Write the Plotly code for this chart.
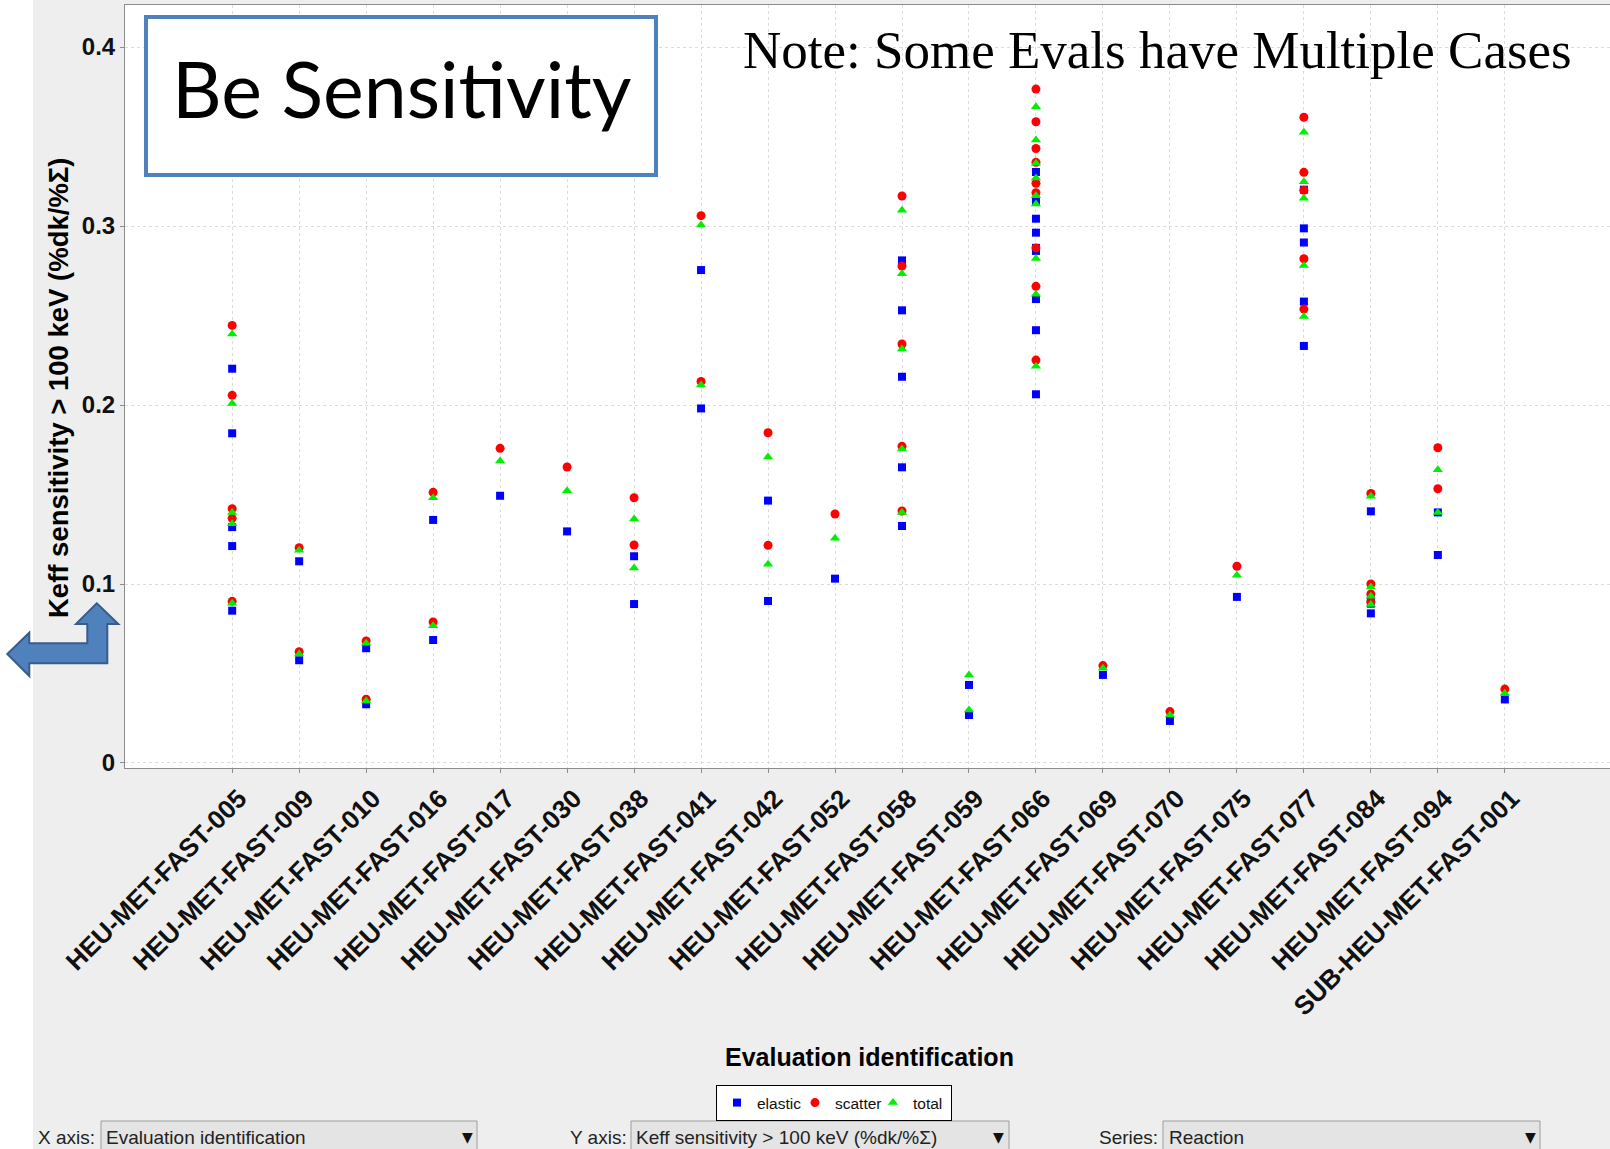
import plotly.graph_objects as go

categories = [
    "HEU-MET-FAST-005", "HEU-MET-FAST-009", "HEU-MET-FAST-010", "HEU-MET-FAST-016",
    "HEU-MET-FAST-017", "HEU-MET-FAST-030", "HEU-MET-FAST-038", "HEU-MET-FAST-041",
    "HEU-MET-FAST-042", "HEU-MET-FAST-052", "HEU-MET-FAST-058", "HEU-MET-FAST-059",
    "HEU-MET-FAST-066", "HEU-MET-FAST-069", "HEU-MET-FAST-070", "HEU-MET-FAST-075",
    "HEU-MET-FAST-077", "HEU-MET-FAST-084", "HEU-MET-FAST-094", "SUB-HEU-MET-FAST-001",
]

elastic_values = [
    [0.2203, 0.1842, 0.1318, 0.1212, 0.0851],
    [0.1127, 0.0574],
    [0.0641, 0.0328],
    [0.1358, 0.0687],
    [0.1493],
    [0.1294],
    [0.1155, 0.0888],
    [0.2754, 0.1981],
    [0.1466, 0.0905],
    [0.1030],
    [0.2808, 0.2529, 0.2158, 0.1652, 0.1324],
    [0.0436, 0.0268],
    [0.3302, 0.3137, 0.3041, 0.2963, 0.2878, 0.2861, 0.2592, 0.2418, 0.2060],
    [0.0492],
    [0.0235],
    [0.0928],
    [0.3203, 0.2987, 0.2908, 0.2578, 0.2330],
    [0.1406, 0.0925, 0.0890, 0.0836],
    [0.1400, 0.1162],
    [0.0355],
]

scatter_values = [
    [0.2445, 0.2054, 0.1421, 0.1367, 0.0903],
    [0.1203, 0.0622],
    [0.0682, 0.0356],
    [0.1512, 0.0788],
    [0.1758],
    [0.1654],
    [0.1482, 0.1218],
    [0.3058, 0.2132],
    [0.1845, 0.1216],
    [0.1391],
    [0.3168, 0.2777, 0.2341, 0.1769, 0.1408],
    [],
    [0.3765, 0.3583, 0.3433, 0.3356, 0.3239, 0.3186, 0.2878, 0.2663, 0.2251],
    [0.0544],
    [0.0287],
    [0.1099],
    [0.3608, 0.3300, 0.3200, 0.2817, 0.2536],
    [0.1506, 0.1000, 0.0944, 0.0900],
    [0.1761, 0.1532],
    [0.0413],
]

total_values = [
    [0.2397, 0.2009, 0.1400, 0.1337, 0.0892],
    [0.1188, 0.0609],
    [0.0669, 0.0346],
    [0.1482, 0.0767],
    [0.1687],
    [0.1521],
    [0.1363, 0.1089],
    [0.3006, 0.2112],
    [0.1709, 0.1110],
    [0.1255],
    [0.3088, 0.2734, 0.2313, 0.1754, 0.1400],
    [0.0492, 0.0296],
    [0.3666, 0.3481, 0.3351, 0.3268, 0.3169, 0.3123, 0.2818, 0.2619, 0.2217],
    [0.0529],
    [0.0268],
    [0.1049],
    [0.3524, 0.3248, 0.3155, 0.2779, 0.2494],
    [0.1491, 0.0983, 0.0932, 0.0886],
    [0.1638, 0.1400],
    [0.0390],
]

series_names = ["elastic", "scatter", "total"]
y_tick_values = [0, 0.1, 0.2, 0.3, 0.4]
y_tick_labels = ["0", "0.1", "0.2", "0.3", "0.4"]

W, H = 1610, 1149
PL, PR, PT, PB = 125, 1610, 5, 768


def px(x):
    return (x - PL) / (PR - PL)


def py(y):
    return (PB - y) / (PB - PT)


def flatten(vals):
    xs, ys = [], []
    for c, vs in zip(categories, vals):
        for v in vs:
            xs.append(c)
            ys.append(v)
    return xs, ys


SANS = "Liberation Sans, Arial, sans-serif"
fig = go.Figure()
styles = [
    (elastic_values, "square", "#0000FF", 8),
    (scatter_values, "circle", "#FF0000", 9),
    (total_values, "triangle-up", "#00EE00", 9),
]
for name, (vals, sym, col, size) in zip(series_names, styles):
    xs, ys = flatten(vals)
    fig.add_trace(go.Scatter(
        x=xs, y=ys, mode="markers", name=name,
        marker=dict(symbol=sym, color=col, size=size, line=dict(width=0)),
    ))

grid = "#DCDCDC"
fig.update_xaxes(
    type="category", categoryorder="array", categoryarray=categories,
    range=[-1.6, 20.57], tickangle=-45, ticklabelshift=7,
    tickfont=dict(family=SANS, size=26, color="#111", weight="bold"),
    showgrid=True, gridcolor=grid, griddash="3px,3px", gridwidth=1,
    showline=True, linecolor="#8C8C8C", linewidth=1, mirror=True,
    ticks="outside", ticklen=4, tickcolor="#8C8C8C", zeroline=False,
)
fig.update_yaxes(
    range=[-0.0028, 0.4235], tickvals=y_tick_values, ticktext=y_tick_labels,
    tickfont=dict(family=SANS, size=24, color="#111", weight="bold"),
    showgrid=True, gridcolor=grid, griddash="3px,3px", gridwidth=1,
    showline=True, linecolor="#8C8C8C", linewidth=1, mirror=True,
    ticks="outside", ticklen=4, tickcolor="#8C8C8C", zeroline=False,
)

shapes = [
    dict(type="rect", xref="paper", yref="paper", x0=px(0), x1=px(33), y0=py(0), y1=py(H),
         fillcolor="white", line=dict(width=0), layer="above"),
    dict(type="rect", xref="paper", yref="paper", x0=px(146), x1=px(656), y0=py(17), y1=py(175),
         fillcolor="white", line=dict(color="#4F81BD", width=4), layer="above"),
]
for x0, x1 in [(101, 477), (631, 1009), (1163, 1540)]:
    shapes.append(dict(type="rect", xref="paper", yref="paper", x0=px(x0), x1=px(x1),
                       y0=py(1121), y1=py(1165), fillcolor="#E4E4E4",
                       line=dict(color="#9C9C9C", width=1), layer="above"))
pts = [(96.7, 603.3), (118.3, 624), (107.3, 624), (107.3, 663.3), (29.3, 663.3),
       (29.3, 676), (7.3, 654), (29.3, 632.7), (29.3, 643.3), (87.3, 643.3),
       (87.3, 624), (76, 624)]
path = "M " + " L ".join(f"{px(a):.5f},{py(b):.5f}" for a, b in pts) + " Z"
shapes.append(dict(type="path", xref="paper", yref="paper", path=path,
                   fillcolor="#4F81BD", line=dict(color="#385D8A", width=2), layer="above"))

ann = []
ann.append(dict(text="Be Sensitivity", x=px(402), y=py(88), xref="paper", yref="paper",
                xanchor="center", yanchor="middle", showarrow=False,
                font=dict(family="Lato, Noto Sans, sans-serif", size=77, color="black")))
ann.append(dict(text="Note: Some Evals have Multiple Cases", x=px(741), y=py(50),
                xref="paper", yref="paper", xanchor="left", yanchor="middle", showarrow=False,
                font=dict(family="Liberation Serif, Times New Roman, serif", size=53, color="black")))
ann.append(dict(text="Evaluation identification", x=px(869), y=py(1057), xref="paper",
                yref="paper", xanchor="center", yanchor="middle", showarrow=False,
                font=dict(family=SANS, size=25, color="black", weight="bold")))
ann.append(dict(text="Keff sensitivity > 100 keV (%dk/%Σ)", x=px(58), y=py(388), xref="paper",
                yref="paper", xanchor="center", yanchor="middle", showarrow=False, textangle=-90,
                font=dict(family=SANS, size=27.5, color="black", weight="bold")))
controls = [
    ("X axis:", 36, "Evaluation identification", 104, 467),
    ("Y axis:", 568, "Keff sensitivity > 100 keV (%dk/%Σ)", 634, 998),
    ("Series:", 1097, "Reaction", 1167, 1530),
]
for lab, lx, val, vx, ax in controls:
    for t, xx in [(lab, lx), (val, vx)]:
        ann.append(dict(text=t, x=px(xx), y=py(1137), xref="paper", yref="paper",
                        xanchor="left", yanchor="middle", showarrow=False,
                        font=dict(family=SANS, size=19, color="#222")))
    ann.append(dict(text="▼", x=px(ax), y=py(1137), xref="paper", yref="paper",
                    xanchor="center", yanchor="middle", showarrow=False,
                    font=dict(family="DejaVu Sans, sans-serif", size=14, color="#111")))

fig.update_layout(
    width=W, height=H, margin=dict(l=PL, r=W - PR, t=PT, b=H - PB, pad=0),
    paper_bgcolor="#EEEEEE", plot_bgcolor="white",
    shapes=shapes, annotations=ann,
    legend=dict(orientation="h", x=px(716), y=py(1085), xanchor="left", yanchor="top",
                bgcolor="white", bordercolor="black", borderwidth=1,
                font=dict(family=SANS, size=15.5, color="#111"), itemwidth=30,
                entrywidth=33, entrywidthmode="pixels", itemsizing="trace"),
    showlegend=True,
)

fig.write_html("out.html", config={"displayModeBar": False},
               post_script="document.body.style.margin='0';document.body.style.overflow='hidden';")
